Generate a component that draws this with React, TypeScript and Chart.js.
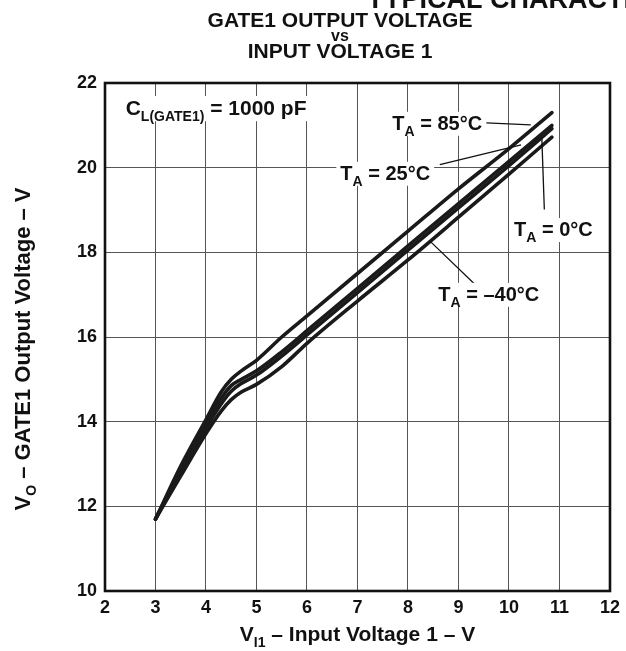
import { useEffect, useRef } from 'react';
import { Chart, registerables } from 'chart.js';

Chart.register(...registerables);

// ---- data ----
const inputVoltage = [3, 3.5, 4, 4.3, 4.5, 4.7, 5, 5.5, 6, 7, 8, 9, 10, 10.85];
const out85 = [11.7, 12.95, 14.05, 14.7, 15.0, 15.2, 15.45, 16.0, 16.5, 17.5, 18.5, 19.5, 20.45, 21.3];
const out25 = [11.7, 12.87, 13.95, 14.55, 14.85, 15.0, 15.2, 15.65, 16.15, 17.15, 18.15, 19.15, 20.15, 21.0];
const out0 = [11.7, 12.8, 13.85, 14.42, 14.72, 14.9, 15.1, 15.55, 16.05, 17.05, 18.05, 19.05, 20.05, 20.92];
const outM40 = [11.7, 12.72, 13.72, 14.25, 14.52, 14.7, 14.88, 15.3, 15.85, 16.85, 17.82, 18.83, 19.85, 20.72];
const seriesNames = ['TA = 85°C', 'TA = 25°C', 'TA = 0°C', 'TA = –40°C'];

const xMin = 2, xMax = 12, xStep = 1;
const yMin = 10, yMax = 22, yStep = 2;

const titleLines = ['GATE1 OUTPUT VOLTAGE', 'vs', 'INPUT VOLTAGE 1'];
const headerText = 'TYPICAL CHARACTERISTICS';

const FONT = "'Liberation Sans', Arial, Helvetica, sans-serif";

type Part = { t: string; sub?: boolean };

function richWidth(ctx: CanvasRenderingContext2D, parts: Part[], size: number, subSize: number) {
  let w = 0;
  for (const p of parts) {
    ctx.font = `bold ${p.sub ? subSize : size}px ${FONT}`;
    w += ctx.measureText(p.t).width;
  }
  return w;
}

function drawRich(ctx: CanvasRenderingContext2D, parts: Part[], x: number, baseline: number, size: number, subSize: number) {
  let cx = x;
  ctx.textAlign = 'left';
  ctx.textBaseline = 'alphabetic';
  for (const p of parts) {
    ctx.font = `bold ${p.sub ? subSize : size}px ${FONT}`;
    ctx.fillText(p.t, cx, p.sub ? baseline + size * 0.28 : baseline);
    cx += ctx.measureText(p.t).width;
  }
  return cx - x;
}

// annotation labels: parts, x (data), y center (data); leaders from -> to in data coords
const labelParts: Part[][] = [
  [{ t: 'T' }, { t: 'A', sub: true }, { t: ' = 85°C' }],
  [{ t: 'T' }, { t: 'A', sub: true }, { t: ' = 25°C' }],
  [{ t: 'T' }, { t: 'A', sub: true }, { t: ' = 0°C' }],
  [{ t: 'T' }, { t: 'A', sub: true }, { t: ' = –40°C' }],
];
const labelX = [7.69, 6.66, 10.1, 8.6];
const labelY = [21.06, 19.88, 18.55, 17.02];
const leaderFromX = [9.55, 8.63, 10.7, 9.38];
const leaderFromY = [21.06, 20.07, 19.01, 17.18];
const leaderToX = [10.43, 10.24, 10.65, 8.43];
const leaderToY = [21.01, 20.54, 20.71, 18.27];

const capParts: Part[] = [{ t: 'C' }, { t: 'L(GATE1)', sub: true }, { t: ' = 1000 pF' }];
const capX = 2.41, capY = 21.42;

const overlayPlugin = {
  id: 'overlay',
  afterDatasetsDraw(chart: any) {
    const ctx: CanvasRenderingContext2D = chart.ctx;
    const xs = chart.scales.x, ys = chart.scales.y;
    const area = chart.chartArea;
    ctx.save();
    ctx.fillStyle = '#111';

    // leaders
    ctx.strokeStyle = '#111';
    ctx.lineWidth = 1.3;
    for (let i = 0; i < leaderFromX.length; i++) {
      ctx.beginPath();
      ctx.moveTo(xs.getPixelForValue(leaderFromX[i]), ys.getPixelForValue(leaderFromY[i]));
      ctx.lineTo(xs.getPixelForValue(leaderToX[i]), ys.getPixelForValue(leaderToY[i]));
      ctx.stroke();
    }

    // labels with white background
    const put = (parts: Part[], dx: number, dy: number, size: number, sub: number) => {
      const px = xs.getPixelForValue(dx);
      const py = ys.getPixelForValue(dy);
      const w = richWidth(ctx, parts, size, sub);
      ctx.fillStyle = '#fff';
      ctx.fillRect(px - 4, py - size * 0.55, w + 8, size * 1.2);
      ctx.fillStyle = '#111';
      drawRich(ctx, parts, px, py + size * 0.36, size, sub);
    };
    put(capParts, capX, capY, 21, 14);
    for (let i = 0; i < labelParts.length; i++) put(labelParts[i], labelX[i], labelY[i], 20, 14);

    // frame
    ctx.strokeStyle = '#111';
    ctx.lineWidth = 2.6;
    ctx.strokeRect(area.left, area.top, area.right - area.left, area.bottom - area.top);

    // titles
    ctx.fillStyle = '#111';
    ctx.textAlign = 'center';
    ctx.textBaseline = 'alphabetic';
    ctx.font = `bold 21px ${FONT}`;
    ctx.fillText(titleLines[0], 340, 27);
    ctx.font = `bold 16px ${FONT}`;
    ctx.fillText(titleLines[1], 340, 41);
    ctx.font = `bold 21px ${FONT}`;
    ctx.fillText(titleLines[2], 340, 58);
    ctx.textAlign = 'left';
    ctx.font = `bold 27px ${FONT}`;
    ctx.fillText(headerText, 367, 7.5);

    // x axis title
    const xParts: Part[] = [{ t: 'V' }, { t: 'I1', sub: true }, { t: ' – Input Voltage 1 – V' }];
    const xw = richWidth(ctx, xParts, 21, 14);
    const xc = (area.left + area.right) / 2;
    drawRich(ctx, xParts, xc - xw / 2, 641, 21, 14);

    // y axis title
    const yParts: Part[] = [{ t: 'V' }, { t: 'O', sub: true }, { t: ' – GATE1 Output Voltage – V' }];
    const yw = richWidth(ctx, yParts, 22, 14);
    const yc = (area.top + area.bottom) / 2 + 12;
    ctx.save();
    ctx.translate(30, yc);
    ctx.rotate(-Math.PI / 2);
    drawRich(ctx, yParts, -yw / 2, 0, 22, 14);
    ctx.restore();

    ctx.restore();
  },
};

export default function App() {
  const ref = useRef<HTMLCanvasElement | null>(null);
  useEffect(() => {
    document.body.style.margin = '0';
    const canvas = ref.current;
    if (!canvas) return;
    const mk = (vals: number[]) => inputVoltage.map((x, i) => ({ x, y: vals[i] }));
    const all = [out85, out25, out0, outM40];
    const chart = new Chart(canvas, {
      type: 'line',
      data: {
        datasets: all.map((vals, i) => ({
          label: seriesNames[i],
          data: mk(vals),
          borderColor: '#1a1a1a',
          borderWidth: 3.6,
          pointRadius: 0,
          fill: false,
          cubicInterpolationMode: 'monotone' as const,
          borderCapStyle: 'round' as const,
        })),
      },
      options: {
        responsive: false,
        animation: false,
        devicePixelRatio: 1,
        layout: { padding: { top: 83, right: 11, left: 0, bottom: 0 } },
        plugins: { legend: { display: false }, tooltip: { enabled: false }, title: { display: false } },
        scales: {
          x: {
            type: 'linear',
            min: xMin,
            max: xMax,
            afterFit: (s: any) => { s.height = 60; },
            ticks: { stepSize: xStep, color: '#111', font: { family: FONT, size: 18, weight: 'bold' }, padding: 6, maxRotation: 0 },
            grid: { color: '#555', lineWidth: 1, drawTicks: false },
            border: { display: false },
          },
          y: {
            type: 'linear',
            min: yMin,
            max: yMax,
            afterFit: (s: any) => { s.width = 105; },
            ticks: { stepSize: yStep, color: '#111', font: { family: FONT, size: 18, weight: 'bold' }, padding: 8 },
            grid: { color: '#555', lineWidth: 1, drawTicks: false },
            border: { display: false },
          },
        },
      },
      plugins: [overlayPlugin],
    });
    return () => chart.destroy();
  }, []);
  return (
    <div style={{ width: 626, height: 651, background: '#fff' }}>
      <canvas ref={ref} width={626} height={651} style={{ width: 626, height: 651, display: 'block' }} />
    </div>
  );
}
